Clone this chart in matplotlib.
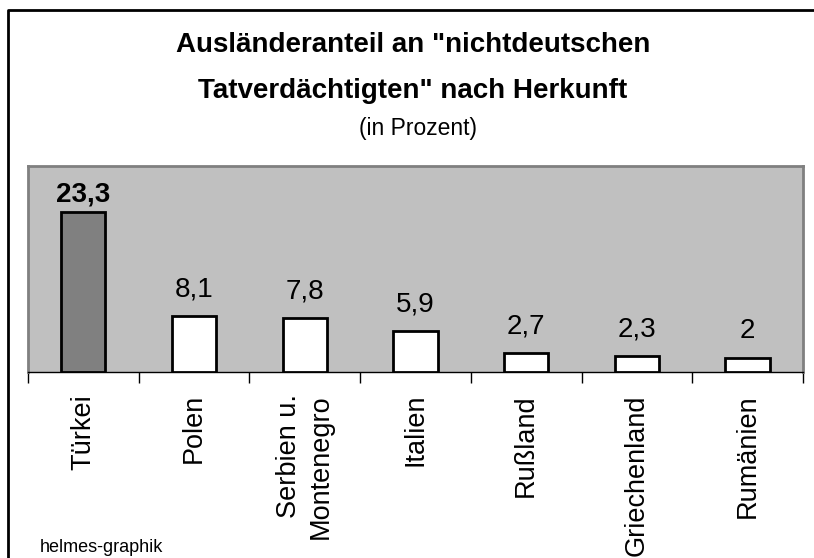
import matplotlib
matplotlib.use("Agg")
import matplotlib.pyplot as plt
from matplotlib.lines import Line2D
from matplotlib.transforms import blended_transform_factory

categories = ["Türkei", "Polen", "Serbien u.\nMontenegro", "Italien", "Rußland", "Griechenland", "Rumänien"]
values = [23.3, 8.1, 7.8, 5.9, 2.7, 2.3, 2.0]
value_labels = ["23,3", "8,1", "7,8", "5,9", "2,7", "2,3", "2"]
bar_colors = ["#808080", "white", "white", "white", "white", "white", "white"]

plt.rcParams['font.family'] = ['Liberation Sans', 'DejaVu Sans']

W, H = 814, 558
fig = plt.figure(figsize=(W / 100, H / 100), dpi=100)
fig.patch.set_facecolor("white")

ax = fig.add_axes([28 / W, 1 - 372 / H, 775 / W, 206 / H])
ax.set_facecolor("#C0C0C0")
x = list(range(len(categories)))
ax.bar(x, values, width=0.4, color=bar_colors, edgecolor="black", linewidth=2, zorder=3)
ax.set_xlim(-0.5, len(categories) - 0.5)
ax.set_ylim(0, 30)
ax.set_yticks([])
ax.set_xticks([i - 0.5 for i in range(len(categories) + 1)])
ax.set_xticklabels([])
ax.tick_params(axis="x", length=8, width=1, color="black", direction="out")
for s in ["left", "right", "top"]:
    ax.spines[s].set_color("#808080")
    ax.spines[s].set_linewidth(2)
ax.spines["bottom"].set_color("black")
ax.spines["bottom"].set_linewidth(1)

for i, (v, lab) in enumerate(zip(values, value_labels)):
    off = 7.5 if i == 0 else 14.5
    ax.annotate(lab, (i, v), xytext=(0, off), textcoords="offset points",
                ha="center", va="baseline", fontsize=20,
                fontweight="bold" if i == 0 else "normal", color="black")

trans = blended_transform_factory(ax.transData, fig.transFigure)
for i, c in enumerate(categories):
    ax.text(i, 1 - 394 / H, c, transform=trans, rotation=90, ha="center", va="top",
            multialignment="right", fontsize=19.5, linespacing=1.28)

cx = 413 / W
fig.text(cx, 1 - 52 / H, 'Ausländeranteil an "nichtdeutschen', ha="center", va="baseline",
         fontsize=20, fontweight="bold")
fig.text(cx, 1 - 98 / H, 'Tatverdächtigten" nach Herkunft', ha="center", va="baseline",
         fontsize=20, fontweight="bold")
fig.text(cx + 5 / W, 1 - 135 / H, "(in Prozent)", ha="center", va="baseline", fontsize=16.5)
fig.text(40 / W, 1 - 548 / H, "helmes-graphik", ha="left", va="center", fontsize=13)

yb = 1 - 9.5 / H
xb = 7.5 / W
fig.add_artist(Line2D([xb, xb, 1.0], [0, yb, yb], transform=fig.transFigure,
                      color="black", linewidth=2))

fig.savefig("out.png", dpi=100)
